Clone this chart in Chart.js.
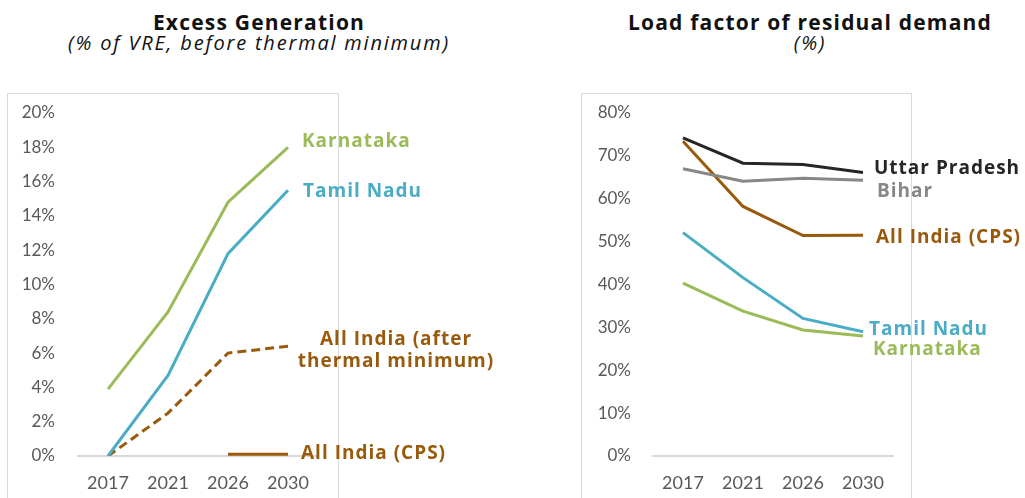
<!DOCTYPE html>
<html>
<head>
<meta charset="utf-8">
<script src="https://cdn.jsdelivr.net/npm/chart.js@4/dist/chart.umd.min.js"></script>
<style>
  body { margin: 0; background: #fff; width: 1025px; height: 498px; overflow: hidden; position: relative; font-family: "Open Sans", sans-serif; }
  .frame { position: absolute; top: 93px; height: 430px; border: 1px solid #d9d9d9; box-sizing: border-box; }
  .title { position: absolute; text-align: center; color: #111; white-space: nowrap; }
  .title b { display: block; font-size: 21px; font-weight: 700; line-height: 25px; letter-spacing: 1.2px; }
  .title i { display: block; font-size: 20px; line-height: 21px; margin-top: -3px; letter-spacing: 1.8px; }
  canvas { position: absolute; top: 0; }
</style>
</head>
<body>
<div class="frame" style="left:7px; width:332px;"></div>
<div class="frame" style="left:581px; width:331px;"></div>

<div class="title" style="left:59px; width:400px; top:10px;"><b>Excess Generation</b><i>(% of VRE, before thermal minimum)</i></div>
<div class="title" style="left:610px; width:400px; top:10px;"><b>Load factor of residual demand</b><i>(%)</i></div>

<canvas id="excess" width="520" height="498" style="left:0"></canvas>
<canvas id="loadFactor" width="505" height="498" style="left:520px"></canvas>

<script>
const years = ['2017', '2021', '2026', '2030'];

// excess generation, % of VRE
const excessKarnataka = [3.9, 8.4, 14.8, 18.0];
const excessTamilNadu = [0, 4.7, 11.8, 15.5];
const excessIndiaAfterMin = [0, 2.5, 6.0, 6.4];
const excessIndiaCps = [null, null, 0.1, 0.1];

// load factor of residual demand, %
const lfUttarPradesh = [74.2, 68.3, 68.0, 66.1];
const lfBihar = [67.0, 64.1, 64.8, 64.3];
const lfIndiaCps = [73.4, 58.2, 51.4, 51.5];
const lfTamilNadu = [52.1, 41.6, 32.1, 29.0];
const lfKarnataka = [40.3, 33.8, 29.4, 28.0];

const green = '#9bbb59';
const blue = '#4bacc6';
const brown = '#9a5a0c';
const black = '#262626';
const grey = '#878787';
const tickGrey = '#595959';

Chart.defaults.font.family = 'Lato, sans-serif';
Chart.defaults.animation = false;

// writes the series name next to the last point of each line
const endLabels = {
    id: 'endLabels',
    afterDatasetsDraw(chart) {
        const ctx = chart.ctx;
        chart.data.datasets.forEach((ds, i) => {
            if (!ds.endLabel) return;
            const meta = chart.getDatasetMeta(i);
            const pt = meta.data[meta.data.length - 1];
            const lbl = ds.endLabel;
            ctx.save();
            ctx.font = 'bold 19px "Open Sans", sans-serif';
            ctx.letterSpacing = '1px';
            ctx.fillStyle = ds.borderColor;
            ctx.textAlign = lbl.align || 'left';
            ctx.textBaseline = 'middle';
            lbl.lines.forEach((line, k) => {
                ctx.fillText(line, pt.x + lbl.dx, pt.y + lbl.dy + k * 22);
            });
            ctx.restore();
        });
    }
};

function series(label, data, colour, endLabel, dashed) {
    return {
        label: label,
        data: data,
        borderColor: colour,
        backgroundColor: colour,
        borderWidth: 3,
        borderDash: dashed ? [9, 5] : [],
        pointRadius: 0,
        tension: 0,
        endLabel: endLabel
    };
}

function makeOptions(maxY, step, axisWidth, padRight, yPad) {
    return {
        responsive: false,
        layout: { padding: { top: 113, right: padRight, bottom: 0, left: 0 } },
        plugins: { legend: { display: false }, tooltip: { enabled: false } },
        scales: {
            x: {
                offset: true,
                grid: { display: false, drawTicks: false },
                border: { display: true, color: '#d9d9d9', width: 2 },
                ticks: { color: tickGrey, font: { size: 18 }, padding: 16 },
                afterFit: s => { s.height = 42; }
            },
            y: {
                min: 0,
                max: maxY,
                grid: { display: false, drawTicks: false },
                border: { display: false },
                ticks: {
                    stepSize: step,
                    color: tickGrey,
                    font: { size: 17 },
                    padding: yPad,
                    callback: v => v + '%'
                },
                afterFit: s => { s.width = axisWidth; }
            }
        }
    };
}

new Chart(document.getElementById('excess'), {
    type: 'line',
    data: {
        labels: years,
        datasets: [
            series('Karnataka', excessKarnataka, green, { lines: ['Karnataka'], dx: 14, dy: -6 }),
            series('Tamil Nadu', excessTamilNadu, blue, { lines: ['Tamil Nadu'], dx: 15, dy: 1 }),
            series('All India (after thermal minimum)', excessIndiaAfterMin, brown,
                { lines: ['All India (after', 'thermal minimum)'], dx: 108, dy: -7, align: 'center' }, true),
            series('All India (CPS)', excessIndiaCps, brown, { lines: ['All India (CPS)'], dx: 13, dy: -1 })
        ]
    },
    options: makeOptions(20, 2, 78, 202, 23),
    plugins: [endLabels]
});

new Chart(document.getElementById('loadFactor'), {
    type: 'line',
    data: {
        labels: years,
        datasets: [
            series('Uttar Pradesh', lfUttarPradesh, black, { lines: ['Uttar Pradesh'], dx: 11, dy: -4 }),
            series('Bihar', lfBihar, grey, { lines: ['Bihar'], dx: 14, dy: 11 }),
            series('All India (CPS)', lfIndiaCps, brown, { lines: ['All India (CPS)'], dx: 13, dy: 2 }),
            series('Tamil Nadu', lfTamilNadu, blue, { lines: ['Tamil Nadu'], dx: 6, dy: -2 }),
            series('Karnataka', lfKarnataka, green, { lines: ['Karnataka'], dx: 10, dy: 14 })
        ]
    },
    options: makeOptions(80, 10, 133, 132, 22),
    plugins: [endLabels]
});
</script>
</body>
</html>
